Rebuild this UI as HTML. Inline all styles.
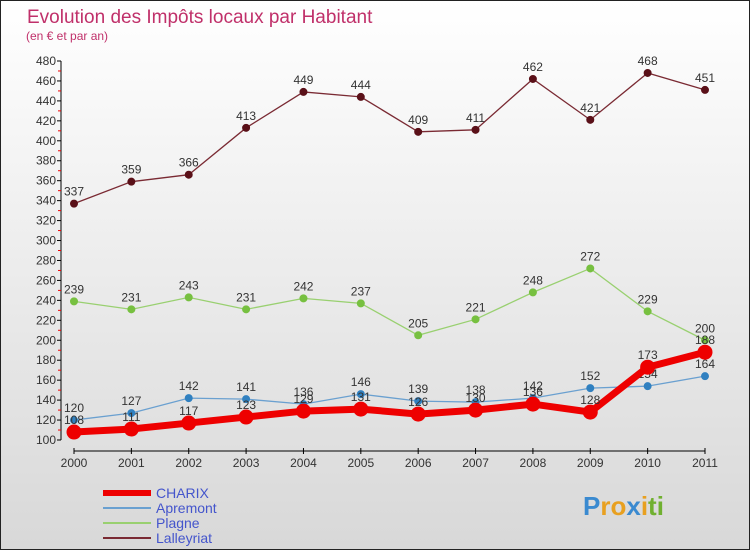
<!DOCTYPE html>
<html><head><meta charset="utf-8"><style>
body{margin:0;width:750px;height:550px;overflow:hidden;font-family:"Liberation Sans",sans-serif}
#wrap{position:absolute;left:0;top:0;width:748px;height:548px;border:1px solid #222;background:linear-gradient(#fff,#d8d8d8)}
</style></head><body>
<div id="wrap">
<svg id="chart" width="748" height="548"></svg>
</div>
<script>
const years=["2000","2001","2002","2003","2004","2005","2006","2007","2008","2009","2010","2011"];
const charix=[108,111,117,123,129,131,126,130,136,128,173,188];
const apremont=[120,127,142,141,136,146,139,138,142,152,154,164];
const plagne=[239,231,243,231,242,237,205,221,248,272,229,200];
const lalleyriat=[337,359,366,413,449,444,409,411,462,421,468,451];
const yTicks=[100,120,140,160,180,200,220,240,260,280,300,320,340,360,380,400,420,440,460,480];
const NS="http://www.w3.org/2000/svg";
const svg=document.getElementById('chart');
const X=i=>74-1+i*(705-74)/11;
const Y=v=>439-(v-100)*379/380;
function mk(t,a,p){const e=document.createElementNS(NS,t);for(const k in a)e.setAttribute(k,a[k]);(p||svg).appendChild(e);return e;}
let t=mk('text',{x:26,y:22,'font-size':19,fill:'#c0306a'});t.textContent='Evolution des Impôts locaux par Habitant';


t=mk('text',{x:25,y:39,'font-size':12,fill:'#c0306a'});t.textContent='(en € et par an)';


// axes
let ax=mk('line',{x1:60,y1:Y(480),x2:60,y2:Y(100),stroke:'#000'});


yTicks.forEach(v=>{mk('line',{x1:56,x2:60,y1:Y(v),y2:Y(v),stroke:'#000'});
 mk('line',{x1:57,x2:60,y1:Y(v+10),y2:Y(v+10),stroke:v<480?'#e00':'none'});
 const l=mk('text',{x:55,y:Y(v)+4,'font-size':12,'text-anchor':'end',fill:'#333'});l.textContent=v;
 
 });
ax=mk('line',{x1:X(0),x2:X(11),y1:450,y2:450,stroke:'#000'});


years.forEach((y,i)=>{mk('line',{x1:X(i),x2:X(i),y1:447,y2:453,stroke:'#000'});
 const l=mk('text',{x:X(i),y:466,'font-size':12,'text-anchor':'middle',fill:'#333'});l.textContent=y;
 
 });
function series(data,color,w,r,name,mcol){
 const g=mk('g',{});
 
 
 mk('polyline',{points:data.map((v,i)=>X(i)+','+Y(v)).join(' '),fill:'none',stroke:color,'stroke-width':w},g);
 data.forEach((v,i)=>{const c=mk('circle',{cx:X(i),cy:Y(v),r:r,fill:mcol,stroke:mcol},g);
  
  
  const l=mk('text',{x:X(i),y:Y(v)-8,'font-size':12,'text-anchor':'middle',fill:'#333'},g);l.textContent=v;
  
  });
}
series(lalleyriat,'#7a2a33',1.3,3.5,'lalleyriat','#5a1018');
series(plagne,'#99d070',1.3,3.5,'plagne','#77c040');
series(apremont,'#6aa0d0',1.3,3.5,'apremont','#3080c0');
series(charix,'#ee0000',7,7,'charix','#ee0000');
// legend
const leg=[['CHARIX','#ee0000',6],['Apremont','#6aa0d0',2],['Plagne','#99d070',2],['Lalleyriat','#7a2a33',2]];
leg.forEach((d,i)=>{const g=mk('g',{});
 
 
 const y=492+i*15;
 mk('line',{x1:102,x2:150,y1:y,y2:y,stroke:d[1],'stroke-width':d[2]},g);
 const l=mk('text',{x:155,y:y+5,'font-size':14,fill:'#4455cc'},g);l.textContent=d[0];});
// logo
const lg=mk('text',{x:582,y:514,'font-size':26,'font-weight':'bold'});


[['P','#3a8ad0'],['ro','#e8a020'],['x','#3a8ad0'],['i','#e8a020'],['ti','#70b030']].forEach(p=>{const s=mk('tspan',{fill:p[1]},lg);s.textContent=p[0];});
</script>
</body></html>
